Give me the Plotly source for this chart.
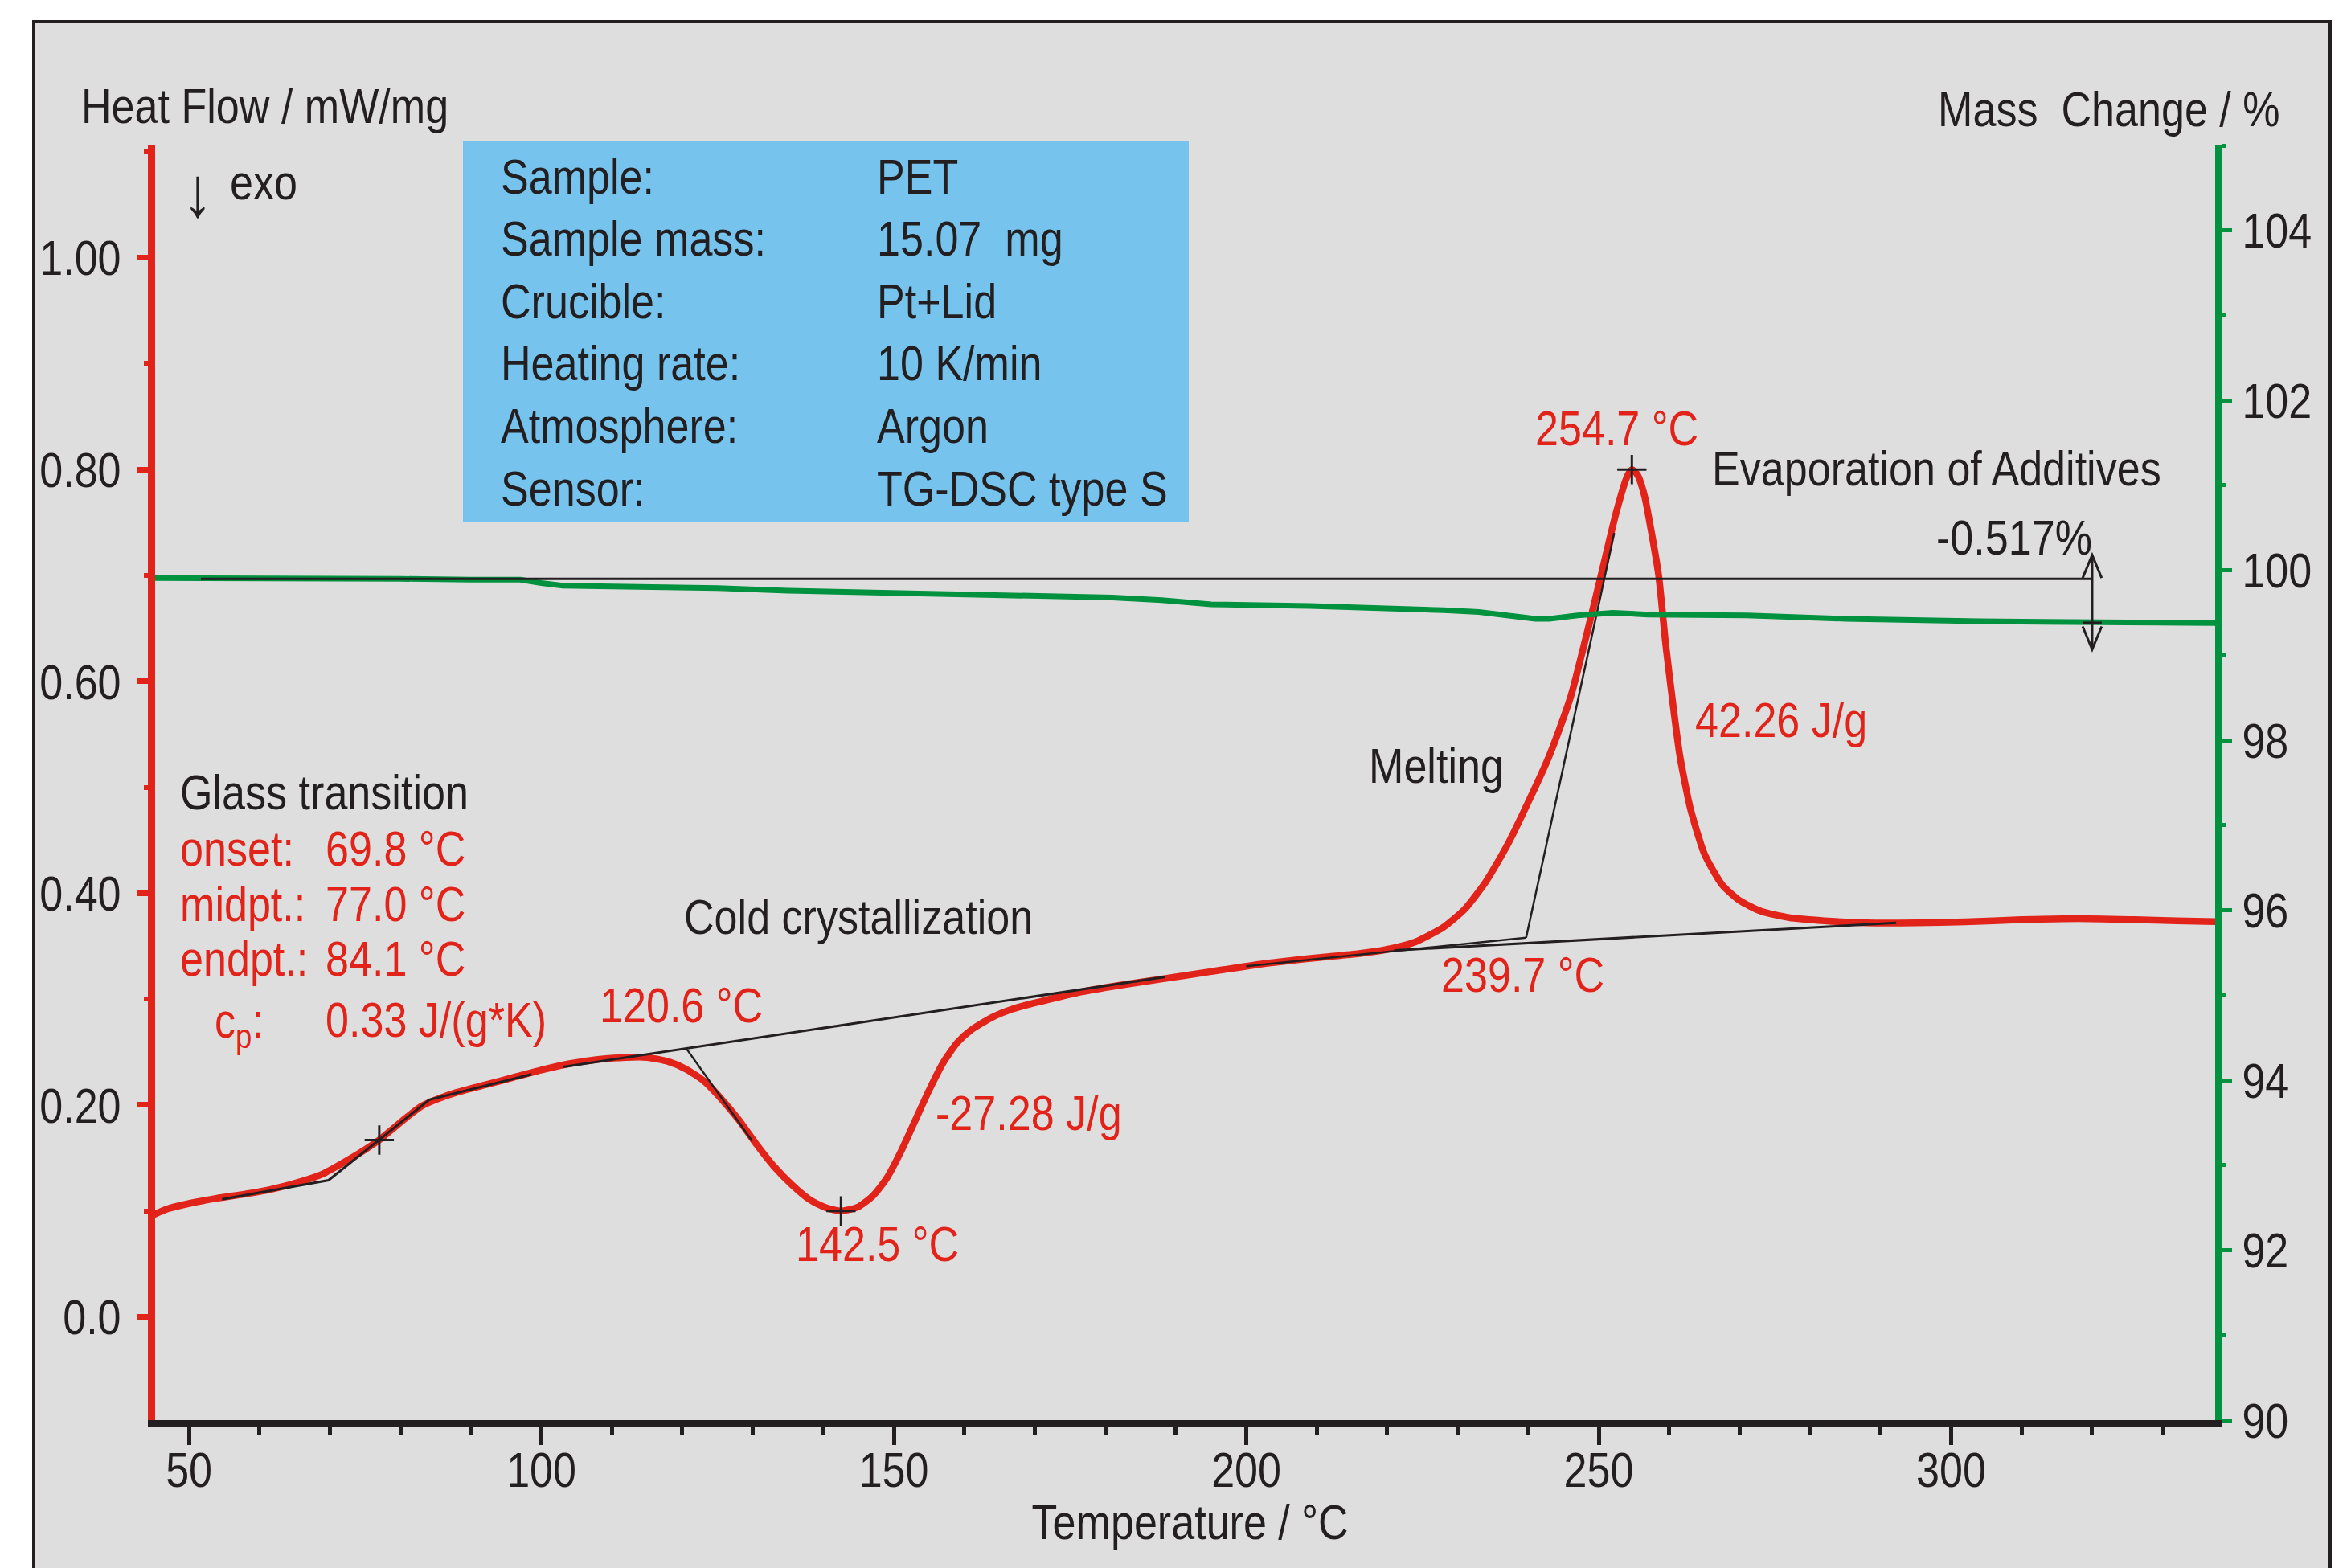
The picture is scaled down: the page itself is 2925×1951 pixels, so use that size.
import plotly.graph_objects as go

# ------------------------------------------------------------------ data
temp_dsc = [44.5, 47, 50, 54, 58, 62, 66, 69, 72, 75, 77, 79, 81, 83, 85, 88, 92, 96,
            100, 104, 108, 112, 115, 118, 120.5, 123, 125.5, 128, 130.5, 133, 135.5,
            138, 140, 141.5, 142.5, 143.5, 145, 147, 149, 151, 153, 155, 157, 159, 161,
            164, 167, 171, 176, 182, 188, 195, 202, 210, 216, 220, 224, 228, 231, 234,
            237, 240, 243, 246, 248.5, 250.5, 252.5, 254, 254.7, 255.5, 256.5, 257.5,
            258.5, 259.5, 260.5, 261.5, 263, 265, 267.5, 270, 273, 277, 282, 288, 295,
            302, 310, 318, 326, 332, 338]
heat_flow = [0.095, 0.102, 0.107, 0.112, 0.116, 0.121, 0.128, 0.135, 0.146, 0.158,
             0.167, 0.178, 0.189, 0.199, 0.205, 0.212, 0.219, 0.226, 0.233, 0.239,
             0.243, 0.245, 0.245, 0.241, 0.234, 0.223, 0.206, 0.186, 0.163, 0.142,
             0.125, 0.111, 0.104, 0.101, 0.100, 0.101, 0.104, 0.114, 0.131, 0.156,
             0.185, 0.214, 0.240, 0.259, 0.271, 0.283, 0.291, 0.298, 0.306, 0.313,
             0.319, 0.326, 0.333, 0.339, 0.343, 0.347, 0.354, 0.368, 0.385, 0.411,
             0.445, 0.486, 0.530, 0.585, 0.650, 0.705, 0.760, 0.793, 0.800, 0.795,
             0.775, 0.740, 0.700, 0.635, 0.580, 0.530, 0.480, 0.437, 0.408, 0.393,
             0.383, 0.377, 0.374, 0.372, 0.372, 0.373, 0.375, 0.376, 0.375, 0.374, 0.373]

temp_tg = [44.5, 50, 60, 70, 80, 90, 97, 100, 103, 110, 125, 135, 145, 155, 165, 172,
           181, 188, 195, 209, 220, 228, 233, 237.5, 241, 243, 247, 252, 257, 271, 285,
           304, 320, 338]
mass = [99.91, 99.91, 99.90, 99.90, 99.90, 99.89, 99.89, 99.85, 99.82, 99.81, 99.79,
        99.76, 99.74, 99.73, 99.71, 99.70, 99.68, 99.65, 99.60, 99.58, 99.56, 99.53,
        99.51, 99.46, 99.43, 99.43, 99.47, 99.50, 99.48, 99.47, 99.43, 99.40, 99.39, 99.38]

x_ticks = [50, 100, 150, 200, 250, 300]
hf_ticks = [0.0, 0.2, 0.4, 0.6, 0.8, 1.0]
hf_tick_labels = ["0.0", "0.20", "0.40", "0.60", "0.80", "1.00"]
mass_ticks = [90, 92, 94, 96, 98, 100, 102, 104]

# evaluation constructions (temperature, heat flow)
glass_T = [54.7, 69.8, 84.1, 98.6]
glass_HF = [0.111, 0.129, 0.205, 0.229]
cryst_base_T = [103.1, 188.5]
cryst_base_HF = [0.236, 0.321]
cryst_onset_T = [120.6, 129.9]
cryst_onset_HF = [0.253, 0.166]
melt_pre_T = [200.0, 239.7]
melt_pre_HF = [0.331, 0.358]
melt_base_T = [221.0, 292.2]
melt_base_HF = [0.346, 0.372]
melt_onset_T = [239.7, 252.2]
melt_onset_HF = [0.358, 0.740]
mark_T = [77.0, 142.5, 254.7]
mark_HF = [0.167, 0.100, 0.800]

# mass step evaluation
step_T_start = 51.7
step_T = 320.0
mass_ref = 99.90
mass_step = -0.517
arrow_top = 100.18
arrow_bottom = 99.07

info_labels = ["Sample:", "Sample mass:", "Crucible:", "Heating rate:", "Atmosphere:", "Sensor:"]
info_values = ["PET", "15.07\u00a0 mg", "Pt+Lid", "10 K/min", "Argon", "TG-DSC type S"]
glass_labels = ["onset:", "midpt.:", "endpt.:", "c<sub>p</sub>:"]
glass_values = ["69.8 °C", "77.0 °C", "84.1 °C", "0.33 J/(g*K)"]

# ------------------------------------------------------------------ style
W, H = 2925, 1951
L, R, T, B = 193, 169, 181, 184
PW, PH = W - L - R, H - T - B
FONT = "Liberation Sans, Arial, sans-serif"
FS = 62
RED = "#E2231A"
GREEN = "#00923F"
BLACK = "#231F20"
BG = "#DEDEDE"
BOX = "#76C4EE"
NARROW = 0.84   # horizontal condensing of all text (narrow sans look)


def px(x):
    return (x - L) / PW


def py(y):
    return (H - B - y) / PH


fig = go.Figure()

fig.add_trace(go.Scatter(x=temp_tg, y=mass, yaxis="y2", mode="lines",
                         line=dict(color=GREEN, width=7), hoverinfo="skip"))
fig.add_trace(go.Scatter(x=temp_dsc, y=heat_flow, mode="lines",
                         line=dict(color=RED, width=8.5, shape="spline", smoothing=0.6),
                         hoverinfo="skip"))


def seg(xs, ys, width=2.5):
    fig.add_trace(go.Scatter(x=xs, y=ys, mode="lines",
                             line=dict(color=BLACK, width=width), hoverinfo="skip"))


seg(glass_T, glass_HF, 3)
seg(cryst_base_T, cryst_base_HF, 3)
seg(cryst_onset_T, cryst_onset_HF)
seg(melt_pre_T, melt_pre_HF)
seg(melt_base_T, melt_base_HF, 3)
seg(melt_onset_T, melt_onset_HF)

fig.add_trace(go.Scatter(x=mark_T, y=mark_HF, mode="markers",
                         marker=dict(symbol="cross-thin", size=26,
                                     line=dict(color=BLACK, width=3)),
                         hoverinfo="skip"))

# mass step reference line
fig.add_trace(go.Scatter(x=[step_T_start, step_T], y=[mass_ref, mass_ref], yaxis="y2",
                         mode="lines", line=dict(color=BLACK, width=3), hoverinfo="skip"))

shapes = []
# outer frame
shapes.append(dict(type="rect", xref="paper", yref="paper", layer="below",
                   x0=px(42), x1=px(2899), y0=py(27), y1=py(1990),
                   fillcolor=BG, line=dict(color=BLACK, width=4)))
# info box
shapes.append(dict(type="rect", xref="paper", yref="paper", layer="below",
                   x0=px(576), x1=px(1479), y0=py(175), y1=py(650),
                   fillcolor=BOX, line=dict(width=0)))
# double arrow for mass step
mass_end = mass_ref + mass_step
dx, dy = 1.35, 0.27
shapes.append(dict(type="line", xref="x", yref="y2", x0=step_T, x1=step_T,
                   y0=arrow_bottom, y1=arrow_top, line=dict(color=BLACK, width=3)))
shapes.append(dict(type="path", xref="x", yref="y2",
                   path=f"M{step_T-dx},{arrow_top-dy} L{step_T},{arrow_top} L{step_T+dx},{arrow_top-dy}",
                   line=dict(color=BLACK, width=3)))
shapes.append(dict(type="path", xref="x", yref="y2",
                   path=f"M{step_T-dx},{arrow_bottom+dy} L{step_T},{arrow_bottom} L{step_T+dx},{arrow_bottom+dy}",
                   line=dict(color=BLACK, width=3)))
shapes.append(dict(type="line", xref="x", yref="y2", x0=step_T - dx, x1=step_T + dx,
                   y0=mass_end, y1=mass_end, line=dict(color=BLACK, width=3)))

ann = []


def text(s, x, y, anchor="left", color=BLACK, size=FS):
    ann.append(dict(text=s, x=px(x), y=py(y), xref="paper", yref="paper",
                    xanchor=anchor, yanchor="middle", align=anchor, showarrow=False,
                    font=dict(family=FONT, size=size, color=color)))


text("Heat Flow / mW/mg", 99, 132)
text("Mass\u00a0 Change / %", 2839, 136, anchor="right")
text("↓", 246, 238, anchor="center", size=88)
text("exo", 284, 226)

for i, (lab, val) in enumerate(zip(info_labels, info_values)):
    yc = 219 + 77.6 * i
    text(lab, 621, yc)
    text(val, 1089, yc)

text("Glass transition", 222, 985)
glass_y = [1055, 1124, 1192, 1268]
glass_lx = [222, 222, 222, 265]
for lab, val, yc, lx in zip(glass_labels, glass_values, glass_y, glass_lx):
    text(lab, lx, yc + (6 if "sub" in lab else 0), color=RED)
    text(val, 403, yc, color=RED)

text("Cold crystallization", 849, 1140)
text(f"{cryst_onset_T[0]:.1f} °C", 744, 1250, color=RED)
text(f"{mark_T[1]:.1f} °C", 988, 1547, color=RED)
text("-27.28 J/g", 1162, 1384, color=RED)
text("Melting", 1701, 952)
text(f"{mark_T[2]:.1f} °C", 1908, 532, color=RED)
text("Evaporation of Additives", 2128, 582)
text(f"{mass_step:.3f}%", 2407, 668)
text("42.26 J/g", 2107, 896, color=RED)
text(f"{melt_onset_T[0]:.1f} °C", 1791, 1213, color=RED)
text("Temperature / °C", 1480, 1893, anchor="center")

tickfont = dict(family=FONT, size=FS, color=BLACK)

fig.update_layout(
    width=W, height=H,
    margin=dict(l=L, r=R, t=T, b=B, pad=0, autoexpand=False),
    paper_bgcolor="white", plot_bgcolor="rgba(0,0,0,0)",
    showlegend=False,
    shapes=shapes, annotations=ann,
    xaxis=dict(range=[45.2, 337.45], showgrid=False, zeroline=False,
               showline=True, linecolor=BLACK, linewidth=8,
               ticks="outside", ticklen=23, tickwidth=5, tickcolor=BLACK,
               tickvals=x_ticks, tickfont=tickfont, ticklabelstandoff=-22,
               minor=dict(dtick=10, tick0=0, ticks="outside", ticklen=11,
                          tickwidth=5, tickcolor=BLACK, showgrid=False)),
    yaxis=dict(range=[-0.0975, 1.106], showgrid=False, zeroline=False,
               showline=True, linecolor=RED, linewidth=9,
               ticks="outside", ticklen=13, tickwidth=7, tickcolor=RED,
               tickvals=hf_ticks, ticktext=hf_tick_labels, tickfont=tickfont,
               ticklabelstandoff=8,
               minor=dict(dtick=0.1, tick0=0, ticks="outside", ticklen=5,
                          tickwidth=6, tickcolor=RED, showgrid=False)),
    yaxis2=dict(range=[90, 105], overlaying="y", side="right", anchor="x",
                showgrid=False, zeroline=False,
                showline=True, linecolor=GREEN, linewidth=9,
                ticks="outside", ticklen=12, tickwidth=5, tickcolor=GREEN,
                tickvals=mass_ticks, tickfont=tickfont,
                minor=dict(dtick=1, tick0=0, ticks="outside", ticklen=5,
                           tickwidth=5, tickcolor=GREEN, showgrid=False)),
)

# condense every text horizontally about its own anchor (narrow sans look)
squeeze_js = """
document.body.style.margin='0';
document.body.style.overflow='hidden';
var gd = document.getElementById('{plot_id}');
var k = %s;
gd.querySelectorAll('svg text').forEach(function(t){
  var s = t.textContent;
  if (!s || !s.trim()) return;
  var bb;
  try { bb = t.getBBox(); } catch (e) { return; }
  if (!bb || bb.width === 0) return;
  var a = t.getAttribute('text-anchor') || getComputedStyle(t).textAnchor || 'start';
  var ax = (a === 'middle') ? bb.x + bb.width / 2 : ((a === 'end') ? bb.x + bb.width : bb.x);
  var old = t.getAttribute('transform') || '';
  t.setAttribute('transform', old + ' translate(' + ax + ',0) scale(' + k + ',1) translate(' + (-ax) + ',0)');
});
""" % NARROW

fig.write_html("out.html", config={"displayModeBar": False}, post_script=squeeze_js)
